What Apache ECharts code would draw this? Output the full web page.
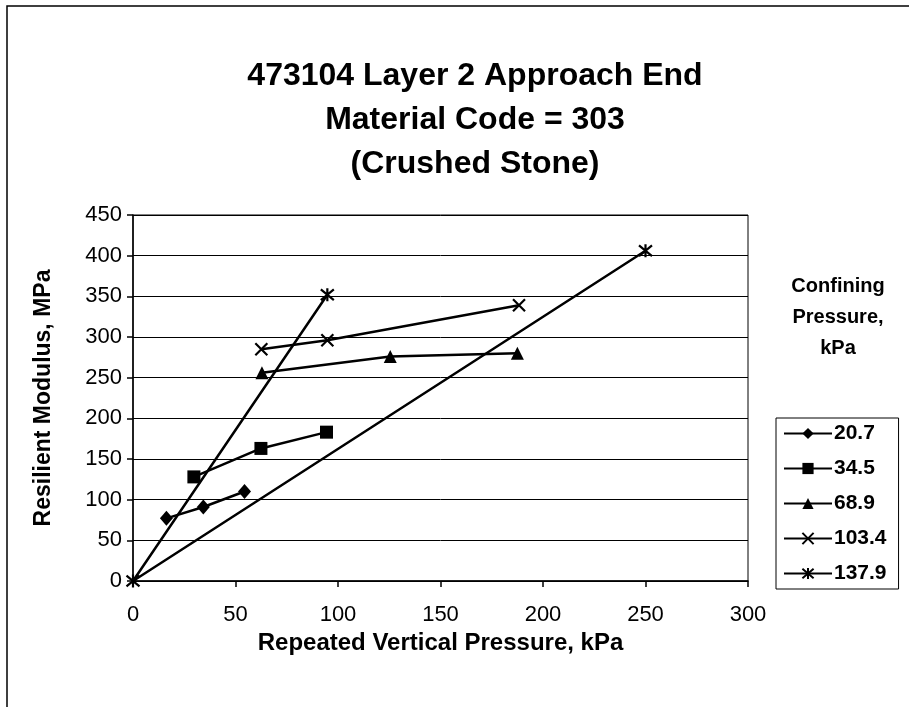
<!DOCTYPE html>
<html>
<head>
<meta charset="utf-8">
<script src="https://cdn.jsdelivr.net/npm/echarts@6/dist/echarts.min.js"></script>
<style>
  html, body { margin: 0; padding: 0; background: #fff; }
  #chart { width: 909px; height: 707px; }
</style>
</head>
<body>
<div id="chart"></div>
<script>
// confining pressure groups (kPa)
var seriesNames = ['20.7', '34.5', '68.9', '103.4', '137.9']
// [repeated vertical pressure kPa, resilient modulus MPa]
var s207 = [[16.3, 77], [34.3, 91], [54.4, 110]]
var s345 = [[29.7, 128], [62.4, 163], [94.4, 183]]
var s689 = [[62.9, 256], [125.5, 276], [187.5, 280]]
var s1034 = [[62.6, 285], [94.8, 296], [188.3, 339]]
var s1379 = [[94.8, 352], [0, 0], [250, 406]]

var xTicks = [0, 50, 100, 150, 200, 250, 300]
var yTicks = [0, 50, 100, 150, 200, 250, 300, 350, 400, 450]

var FONT = '"Liberation Sans", Arial, sans-serif'
var markX = 'path://M0,0L10,10M10,0L0,10'
var markStar = 'path://M0,0L10,10M10,0L0,10M5,-1L5,11'

function lineSeries (name, data, symbol, size, stroked) {
  return {
    name: name,
    type: 'line',
    data: data,
    symbol: symbol,
    symbolSize: size,
    showSymbol: true,
    animation: false,
    lineStyle: { color: '#000', width: 2.5 },
    itemStyle: stroked
      ? { color: 'none', borderColor: '#000', borderWidth: 2.2 }
      : { color: '#000', borderWidth: 0 },
    z: 3
  }
}

var myChart = echarts.init(document.getElementById('chart'))
myChart.setOption({
  backgroundColor: '#fff',
  animation: false,
  title: {
    text: '473104 Layer 2 Approach End\nMaterial Code = 303\n(Crushed Stone)',
    left: 470,
    top: 49,
    textAlign: 'center',
    textStyle: {
      fontFamily: FONT,
      fontWeight: 'bold',
      fontSize: 32,
      lineHeight: 44,
      color: '#000'
    }
  },
  graphic: [
    {
      type: 'rect',
      shape: { x: 7, y: 6, width: 1000, height: 1000 },
      style: { fill: 'none', stroke: '#000', lineWidth: 1.5 }
    },
    {
      type: 'text',
      x: 838,
      y: 271,
      style: {
        text: 'Confining\nPressure,\nkPa',
        align: 'center',
        textAlign: 'center',
        fontFamily: FONT,
        fontWeight: 'bold',
        fontSize: 20,
        lineHeight: 31,
        fill: '#000'
      }
    }
  ],
  legend: {
    orient: 'vertical',
    left: 776,
    top: 418,
    padding: [5, 12, 5, 7],
    itemWidth: 48,
    itemHeight: 14,
    itemGap: 14,
    borderColor: '#000',
    borderWidth: 1,
    data: seriesNames,
    textStyle: {
      fontFamily: FONT,
      fontWeight: 'bold',
      fontSize: 21,
      color: '#000',
      padding: [0, 0, 0, -3]
    }
  },
  grid: {
    left: 133,
    right: 161,
    top: 215,
    bottom: 126,
    show: true,
    borderColor: '#000',
    borderWidth: 1,
    backgroundColor: '#fff'
  },
  xAxis: {
    type: 'value',
    min: xTicks[0],
    max: xTicks[xTicks.length - 1],
    interval: 50,
    name: 'Repeated Vertical Pressure, kPa',
    nameLocation: 'middle',
    nameGap: 38,
    nameTextStyle: {
      fontFamily: FONT,
      fontWeight: 'bold',
      fontSize: 24,
      color: '#000'
    },
    axisLine: { show: true, lineStyle: { color: '#000', width: 1.5 } },
    axisTick: { show: true, inside: false, length: 6, lineStyle: { color: '#000', width: 1.5 } },
    axisLabel: {
      margin: 23,
      fontFamily: FONT,
      fontSize: 22,
      color: '#000'
    },
    splitLine: { show: false }
  },
  yAxis: {
    type: 'value',
    min: yTicks[0],
    max: yTicks[yTicks.length - 1],
    interval: 50,
    name: 'Resilient Modulus, MPa',
    nameLocation: 'middle',
    nameGap: 78,
    nameTextStyle: {
      fontFamily: FONT,
      fontWeight: 'bold',
      fontSize: 23,
      color: '#000'
    },
    axisLine: { show: true, lineStyle: { color: '#000', width: 1.5 } },
    axisTick: { show: true, inside: false, length: 6, lineStyle: { color: '#000', width: 1.5 } },
    axisLabel: {
      margin: 11,
      fontFamily: FONT,
      fontSize: 22,
      color: '#000'
    },
    splitLine: { show: true, lineStyle: { color: '#000', width: 1 } }
  },
  series: [
    lineSeries(seriesNames[0], s207, 'diamond', [13, 15], false),
    lineSeries(seriesNames[1], s345, 'rect', 13, false),
    lineSeries(seriesNames[2], s689, 'triangle', 13, false),
    lineSeries(seriesNames[3], s1034, markX, 12, true),
    lineSeries(seriesNames[4], s1379, markStar, 13, true)
  ]
})
</script>
</body>
</html>
